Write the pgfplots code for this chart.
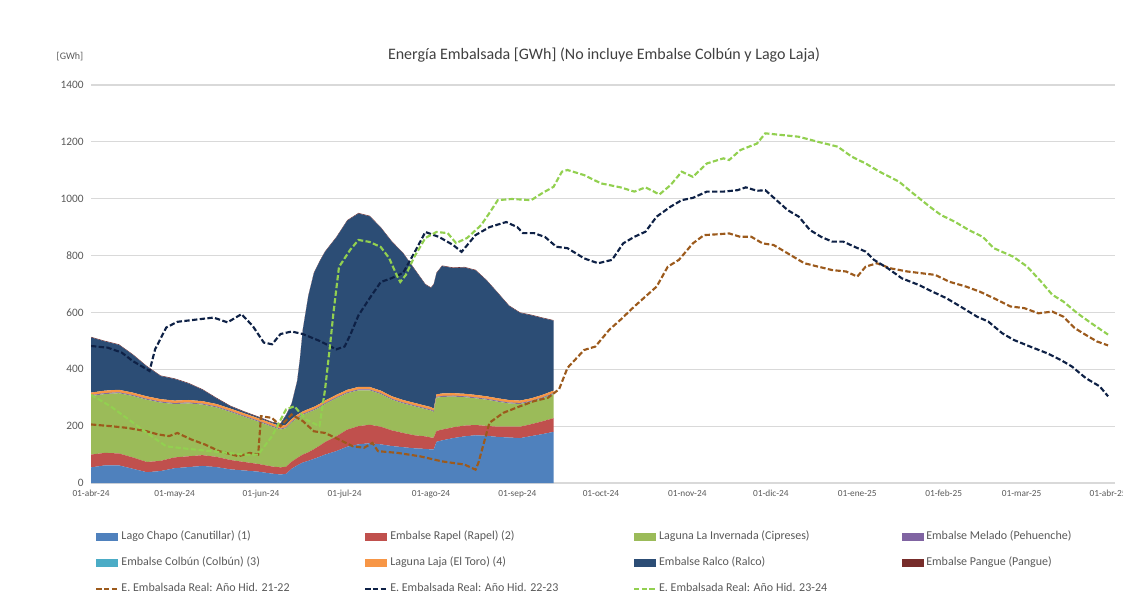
\documentclass[border=0pt]{standalone}
\usepackage{pgfplots}
\pgfplotsset{compat=1.18}
\usepackage{pgfplotstable}
\usepackage{fontspec}
\setmainfont{Carlito}

\definecolor{cChapo}{HTML}{4F81BD}
\definecolor{cRapel}{HTML}{C0504D}
\definecolor{cInv}{HTML}{9BBB59}
\definecolor{cMelado}{HTML}{8064A2}
\definecolor{cColbun}{HTML}{4BACC6}
\definecolor{cLaja}{HTML}{F79646}
\definecolor{cRalco}{HTML}{2C4D75}
\definecolor{cPangue}{HTML}{772C2A}
\definecolor{cL21}{HTML}{9C5A1C}
\definecolor{cL22}{HTML}{0E2146}
\definecolor{cL23}{HTML}{92D050}
\definecolor{gridc}{HTML}{D9D9D9}
\definecolor{txt}{HTML}{595959}
\definecolor{ttl}{HTML}{404040}

% days counted from 01-abr-24
\pgfplotstableread{
day chapo rapel inv melado colbun laja ralco pangue
0 55 45 206 3 0 9 194 2
5 62 44 207 3 0 9 173 2
10 62 42 212 3 0 9 158 2
15 50 40 216 3 0 9 133 2
20 38 36 219 3 0 9 105 2
25 42 36 205 3 0 9 81 2
30 52 38 188 3 0 9 76 2
35 56 38 186 3 0 9 58 2
40 60 38 178 3 0 9 40 2
45 56 36 174 3 0 9 20 2
50 48 33 169 3 0 9 8 2
55 44 30 159 3 0 9 5 2
60 40 27 149 3 0 9 4 2
65 33 25 140 3 0 9 3 2
68 30 25 133 3 0 9 8 2
70 32 25 136 3 0 9 33 2
72 50 25 138 3 0 9 53 2
74 62 26 140 3 0 9 118 2
75 67 27 140 3 0 9 191 2
76 72 28 140 3 0 9 286 2
78 78 30 140 3 0 9 398 2
80 85 34 137 3 0 9 470 2
82 92 39 135 3 0 9 500 2
84 100 44 134 3 0 9 523 2
88 112 52 134 3 0 9 553 2
92 128 60 128 3 0 9 595 2
96 136 64 126 3 0 9 610 2
100 140 65 121 3 0 9 600 2
104 136 62 115 3 0 9 573 2
108 130 55 108 3 0 9 543 2
112 126 50 104 3 0 9 516 2
116 122 46 102 3 0 9 471 2
120 120 44 96 3 0 9 426 2
122 118 42 95 3 0 9 419 2
123 118 42 90 3 0 9 436 2
124 145 38 117 3 0 9 426 2
126 150 38 115 3 0 9 448 2
130 158 38 108 3 0 9 440 2
134 164 38 100 3 0 9 444 2
138 168 36 94 3 0 9 438 2
142 166 35 92 3 0 9 407 2
146 162 36 88 3 0 9 370 2
150 160 38 82 3 0 9 331 2
154 158 40 80 3 0 9 308 2
158 165 42 79 3 0 9 292 2
162 172 45 81 3 0 9 270 2
166 180 48 85 3 0 9 246 2
}\areas

\pgfplotstableread{
day val
0 206
7 200
13 194
20 182
24 171
28 165
31 176
36 153
41 135
46 112
53 94
57 106
60 100
61 235
65 229
68 200
72 241
76 218
80 182
84 176
89 153
94 129
98 124
101 141
103 112
110 106
118 94
126 76
134 65
138 47
139 70
143 212
148 247
154 270
159 288
164 300
168 330
171 405
177 468
181 480
186 539
190 574
195 621
199 656
203 691
207 761
211 785
216 843
220 872
225 875
229 878
233 866
237 866
241 843
245 837
250 808
256 773
261 761
266 749
271 744
275 726
278 761
282 773
287 755
293 744
298 738
303 732
308 708
314 691
319 673
324 650
330 621
335 615
340 597
345 603
349 585
353 545
357 521
361 498
365 484
}\hidA

\pgfplotstableread{
day val
0 482
6 476
11 459
15 429
19 406
21 394
23 470
27 547
31 567
37 574
44 582
49 565
54 594
58 553
62 494
65 488
68 524
72 533
76 524
82 500
88 470
91 480
93 520
96 590
100 650
104 707
108 721
112 739
116 809
120 883
125 865
130 837
133 813
138 872
143 900
149 918
153 900
155 879
159 879
163 865
167 831
171 826
177 790
182 773
187 785
191 843
195 866
199 884
203 937
208 972
212 995
216 1003
221 1025
227 1025
232 1030
235 1040
239 1028
242 1030
246 995
250 960
254 937
258 890
262 866
266 849
270 849
274 831
278 814
281 785
286 755
291 720
297 697
302 673
307 650
312 621
318 585
322 568
327 527
331 504
337 480
343 457
348 433
352 410
357 369
362 340
365 305
}\hidB

\pgfplotstableread{
day val
0 310
7 270
14 220
20 176
27 129
35 120
45 110
55 100
60 100
65 165
70 259
73 270
77 224
82 200
84 329
86 503
87 598
89 760
93 820
96 855
100 848
104 830
107 791
110 725
111 707
113 732
116 795
120 862
124 883
128 879
131 844
135 862
140 907
143 950
146 995
151 999
158 995
162 1020
166 1042
169 1095
171 1101
177 1083
183 1054
190 1040
195 1025
199 1040
204 1015
208 1048
212 1095
216 1077
221 1124
227 1142
229 1136
233 1171
239 1194
242 1230
248 1224
254 1218
261 1200
268 1183
273 1148
278 1124
283 1095
290 1060
295 1019
301 972
305 943
310 919
315 890
320 866
324 826
331 796
336 761
341 708
345 662
349 638
354 597
359 562
365 522
}\hidC

\newcommand\lgb[1]{\makebox[182pt][l]{#1}}
\newcommand\boximg[1]{\addlegendimage{legend image code/.code={\fill[#1] (0pt,-2.8pt) rectangle (16pt,2.8pt);}}}

\pgfplotsset{
  base/.style={at={(68.25pt,96.75pt)}, anchor=south west, scale only axis,
    width=768pt, height=298.5pt, xmin=0, xmax=367.5, ymin=0, ymax=1400},
  hid/.style={line width=1.6pt, dash pattern=on 4pt off 1.8pt, no marks,
    legend image code/.code={\draw[##1] (0pt,0pt) -- (16pt,0pt);}}
}

\begin{document}
\begin{tikzpicture}
\useasboundingbox (0,0) rectangle (842.25pt,459pt);
\begin{axis}[base, stack plots=y,
  axis line style={draw=none}, major tick length=0pt,
  ymajorgrids, grid style={gridc, line width=0.8pt},
  ytick={0,200,...,1400},
  xtick={0,30,61,91,122,153,183,214,244,275,306,334,365},
  xticklabels={01-abr-24,01-may-24,01-jun-24,01-jul-24,01-ago-24,01-sep-24,01-oct-24,01-nov-24,01-dic-24,01-ene-25,01-feb-25,01-mar-25,01-abr-25},
  tick label style={text=txt},
  yticklabel style={font=\fontsize{8.5}{10}\selectfont, xshift=-2pt},
  xticklabel style={font=\fontsize{7}{8}\selectfont, yshift=-2pt},
  /pgf/number format/assume math mode=true,
  /pgf/number format/1000 sep={}]
\addplot[fill=cChapo, draw=none] table[x=day,y=chapo]{\areas} \closedcycle;
\addplot[fill=cRapel, draw=none] table[x=day,y=rapel]{\areas} \closedcycle;
\addplot[fill=cInv, draw=none] table[x=day,y=inv]{\areas} \closedcycle;
\addplot[fill=cMelado, draw=none] table[x=day,y=melado]{\areas} \closedcycle;
\addplot[fill=cColbun, draw=none] table[x=day,y=colbun]{\areas} \closedcycle;
\addplot[fill=cLaja, draw=none] table[x=day,y=laja]{\areas} \closedcycle;
\addplot[fill=cRalco, draw=none] table[x=day,y=ralco]{\areas} \closedcycle;
\addplot[fill=cPangue, draw=none] table[x=day,y=pangue]{\areas} \closedcycle;
\end{axis}

\begin{axis}[base, hide axis,
  legend columns=4,
  legend cell align=left,
  legend style={at={(0.004,-0.12)}, anchor=north west, draw=none, fill=none,
    inner sep=0pt, font=\fontsize{9}{10}\selectfont, text=txt,
    nodes={inner sep=0pt, text height=6.5pt, text depth=2pt},
    row sep=11pt,
    /tikz/every odd column/.append style={column sep=2pt},
    /tikz/every even column/.append style={column sep=0pt}}]
\boximg{cChapo}\addlegendentry{\lgb{Lago Chapo (Canutillar) (1)}}
\boximg{cRapel}\addlegendentry{\lgb{Embalse Rapel (Rapel) (2)}}
\boximg{cInv}\addlegendentry{\lgb{Laguna La Invernada (Cipreses)}}
\boximg{cMelado}\addlegendentry{\lgb{Embalse Melado (Pehuenche)}}
\boximg{cColbun}\addlegendentry{\lgb{Embalse Colbún (Colbún) (3)}}
\boximg{cLaja}\addlegendentry{\lgb{Laguna Laja (El Toro) (4)}}
\boximg{cRalco}\addlegendentry{\lgb{Embalse Ralco (Ralco)}}
\boximg{cPangue}\addlegendentry{\lgb{Embalse Pangue (Pangue)}}
\addplot[hid, cL21] table[x=day,y=val]{\hidA};
\addlegendentry{\lgb{E. Embalsada Real: Año Hid. 21-22}}
\addplot[hid, cL22] table[x=day,y=val]{\hidB};
\addlegendentry{\lgb{E. Embalsada Real: Año Hid. 22-23}}
\addplot[hid, cL23] table[x=day,y=val]{\hidC};
\addlegendentry{\lgb{E. Embalsada Real: Año Hid. 23-24}}
\end{axis}

\node[font=\fontsize{12}{14}\selectfont, text=ttl] at (453pt,417.75pt)
  {Energía Embalsada [GWh] (No incluye Embalse Colbún y Lago Laja)};
\node[font=\fontsize{7.5}{9}\selectfont, text=txt] at (52.5pt,416.25pt) {[GWh]};
\end{tikzpicture}
\end{document}
